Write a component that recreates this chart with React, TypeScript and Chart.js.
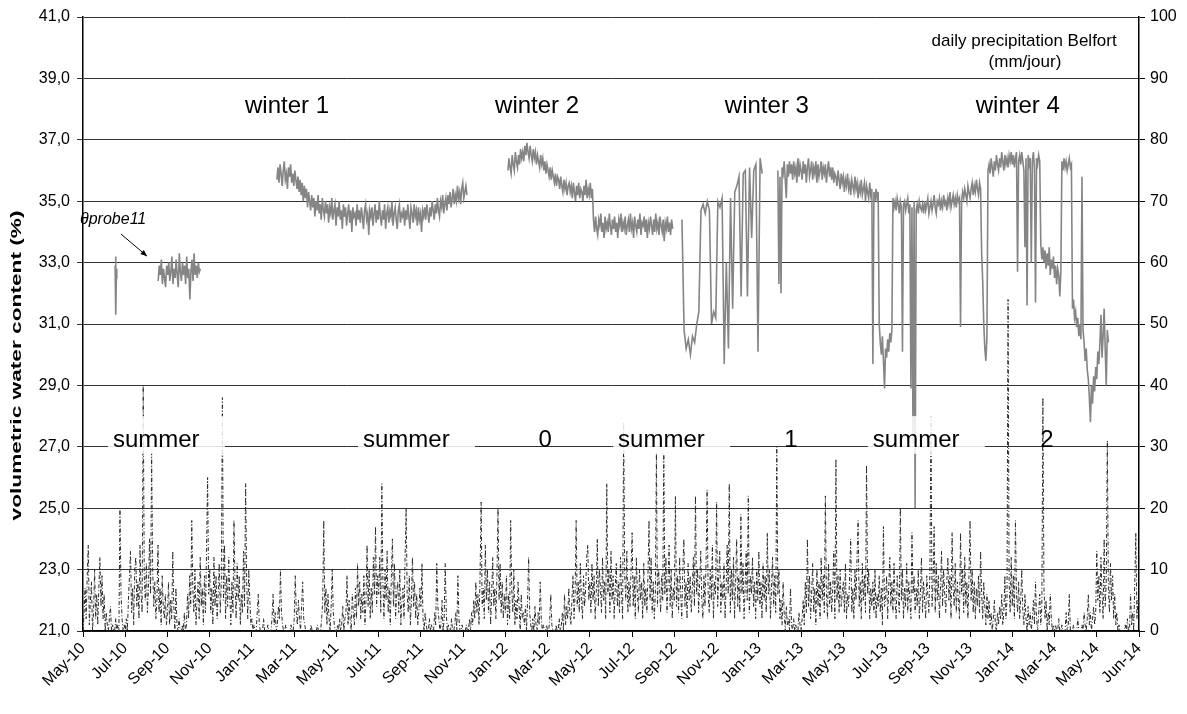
import React, { useEffect, useRef } from 'react';
import { Chart, registerables } from 'chart.js';

Chart.register(...registerables);

// ---------- DATA ----------
// x unit: one label interval (2 months), 0 = May-10 ... 25 = Jun-14
const tickLabels = [
  'May-10', 'Jul-10', 'Sep-10', 'Nov-10', 'Jan-11', 'Mar-11', 'May-11', 'Jul-11', 'Sep-11',
  'Nov-11', 'Jan-12', 'Mar-12', 'May-12', 'Jul-12', 'Sep-12', 'Nov-12', 'Jan-13', 'Mar-13',
  'May-13', 'Jul-13', 'Sep-13', 'Nov-13', 'Jan-14', 'Mar-14', 'May-14', 'Jun-14',
];

// daily precipitation Belfort (mm/jour), one value every 0.025 interval from May-10
const precipStart = 0;
const precipStep = 0.025;
const precipitation = [
  0, 3, 7, 2, 9, 14, 1, 5, 8, 0, 3, 10, 2, 6, 1, 7, 12, 4, 9, 2, 6, 0, 3, 1, 0, 2, 4, 0, 1, 0, 0, 2, 0, 1, 0, 20, 6, 2, 0, 1,
  0, 2, 0, 5, 9, 13, 3, 7, 1, 10, 12, 4, 8, 2, 14, 6, 3, 40, 9, 5, 11, 3, 7, 15, 6, 29, 10, 4, 8, 2, 5, 14, 3, 7, 1, 9, 4, 2, 6, 1,
  3, 8, 1, 5, 2, 13, 4, 0, 7, 1, 0, 2, 0, 0, 1, 0, 3, 0, 1, 6, 2, 9, 4, 18, 7, 3, 10, 1, 5, 8, 2, 12, 4, 7, 1, 9, 3, 13, 25, 6,
  10, 3, 7, 1, 12, 4, 9, 2, 6, 11, 3, 8, 38, 5, 14, 2, 9, 4, 12, 6, 1, 8, 3, 18, 7, 2, 11, 5, 9, 1, 6, 3, 13, 4, 24, 8, 2, 10, 5, 1,
  2, 0, 1, 0, 0, 3, 6, 1, 0, 0, 0, 2, 0, 0, 0, 1, 0, 0, 0, 2, 6, 1, 3, 0, 1, 4, 2, 10, 3, 1, 0, 0, 1, 0, 0, 0, 0, 1, 0, 0,
  2, 9, 3, 1, 5, 2, 0, 4, 8, 2, 1, 0, 0, 0, 0, 0, 1, 0, 0, 0, 0, 0, 1, 0, 0, 0, 2, 5, 18, 3, 7, 1, 6, 2, 0, 4, 10, 3, 1, 0,
  0, 1, 0, 2, 0, 1, 4, 0, 2, 3, 9, 1, 5, 2, 0, 6, 3, 1, 7, 2, 11, 4, 8, 2, 6, 3, 9, 1, 5, 14, 4, 10, 2, 7, 3, 12, 6, 17, 4, 9,
  6, 12, 3, 24, 8, 2, 10, 5, 13, 3, 7, 1, 9, 15, 4, 11, 2, 6, 8, 3, 10, 1, 5, 7, 2, 12, 20, 6, 3, 9, 1, 5, 12, 4, 8, 2, 6, 1, 3, 7,
  4, 11, 2, 0, 3, 1, 0, 0, 2, 0, 1, 0, 0, 3, 1, 11, 4, 2, 0, 1, 5, 0, 2, 11, 3, 0, 1, 0, 0, 2, 0, 0, 1, 3, 0, 9, 2, 0, 0, 1,
  0, 0, 0, 1, 0, 0, 2, 0, 3, 1, 5, 2, 8, 3, 6, 1, 9, 21, 4, 7, 2, 14, 5, 10, 3, 8, 1, 6, 12, 4, 7, 2, 9, 20, 5, 11, 3, 8, 2, 6,
  3, 9, 1, 6, 2, 18, 7, 3, 10, 1, 5, 2, 8, 4, 0, 6, 2, 3, 1, 4, 0, 5, 12, 3, 1, 0, 2, 0, 4, 1, 0, 3, 1, 8, 2, 0, 1, 0, 0, 1,
  0, 0, 2, 6, 1, 0, 0, 0, 1, 0, 0, 2, 0, 1, 3, 0, 6, 1, 4, 2, 7, 3, 1, 5, 9, 2, 6, 18, 4, 8, 3, 11, 5, 2, 9, 4, 7, 12, 14, 5,
  8, 3, 11, 5, 9, 2, 6, 15, 4, 10, 7, 3, 12, 5, 8, 2, 24, 6, 10, 3, 13, 5, 9, 2, 7, 11, 4, 8, 3, 12, 6, 2, 34, 9, 5, 13, 3, 8, 4, 10,
  16, 4, 9, 2, 12, 6, 3, 10, 5, 8, 2, 11, 4, 7, 3, 9, 18, 5, 12, 3, 8, 2, 6, 29, 4, 10, 7, 3, 9, 5, 29, 6, 12, 3, 8, 14, 4, 10, 2, 7,
  5, 22, 4, 9, 3, 12, 6, 2, 10, 15, 4, 8, 2, 11, 5, 9, 3, 7, 12, 4, 22, 6, 10, 3, 8, 13, 5, 2, 9, 4, 11, 23, 6, 3, 10, 5, 14, 2, 8, 6,
  21, 4, 9, 13, 3, 8, 5, 11, 2, 7, 14, 6, 24, 3, 10, 5, 12, 2, 8, 15, 4, 9, 3, 19, 6, 11, 2, 7, 13, 5, 22, 3, 9, 6, 12, 4, 8, 2, 10, 5,
  13, 4, 8, 2, 11, 5, 9, 3, 16, 6, 10, 2, 7, 12, 4, 9, 3, 30, 6, 10, 2, 5, 1, 8, 3, 0, 4, 1, 2, 0, 7, 1, 0, 2, 0, 1, 0, 0, 3, 1,
  0, 2, 5, 1, 8, 3, 15, 4, 9, 2, 6, 11, 3, 7, 1, 10, 4, 8, 2, 12, 5, 9, 3, 22, 6, 2, 11, 4, 8, 3, 7, 13, 2, 28, 5, 9, 3, 10, 4, 6,
  8, 3, 11, 2, 6, 4, 9, 15, 3, 7, 2, 10, 5, 12, 18, 4, 8, 2, 11, 5, 9, 3, 27, 6, 10, 2, 7, 4, 8, 3, 10, 2, 6, 4, 9, 3, 7, 1, 17, 4,
  5, 9, 2, 7, 12, 4, 8, 3, 11, 5, 2, 9, 6, 3, 20, 5, 10, 2, 7, 4, 11, 3, 8, 5, 2, 16, 6, 9, 3, 7, 4, 10, 2, 6, 12, 3, 8, 5, 2, 9,
  6, 3, 10, 35, 4, 8, 17, 3, 11, 5, 9, 2, 7, 13, 4, 10, 6, 3, 8, 12, 5, 9, 2, 16, 7, 4, 11, 3, 8, 5, 2, 16, 6, 10, 3, 12, 4, 8, 2, 9,
  18, 5, 10, 3, 8, 2, 7, 4, 9, 3, 13, 6, 2, 8, 4, 1, 6, 2, 5, 1, 3, 0, 2, 5, 1, 0, 3, 1, 4, 2, 6, 1, 3, 9, 2, 5, 54, 8, 3, 12,
  4, 9, 2, 18, 6, 3, 8, 2, 5, 10, 3, 1, 6, 2, 0, 4, 1, 3, 0, 2, 5, 1, 8, 2, 0, 3, 6, 1, 4, 38, 7, 2, 5, 0, 3, 1, 6, 2, 0, 1,
  0, 1, 0, 0, 2, 0, 0, 1, 0, 0, 0, 3, 0, 1, 6, 0, 0, 0, 1, 0, 0, 0, 2, 0, 0, 0, 1, 0, 3, 1, 0, 2, 6, 1, 3, 0, 2, 4, 1, 3,
  13, 5, 9, 3, 12, 6, 2, 15, 4, 8, 31, 7, 3, 11, 5, 9, 2, 6, 1, 3, 0, 1, 0, 0, 0, 0, 0, 1, 0, 2, 0, 0, 6, 1, 3, 0, 8, 16, 2, 5,
  4,
];

// volumetric water content θprobe11 (%) — recorded pieces (start, step, values)
const thetaAStart = 0.76;
const thetaAStep = 0.01;
const thetaA = [32.9, 33.2, 31.3, 32.5, 32.8];

const thetaBStart = 1.78;
const thetaBStep = 0.025;
const thetaB = [
  32.4, 32.9, 32.6, 33.1, 32.3, 32.8, 32.5, 32.2, 32.9, 32.6,
  33.0, 32.4, 32.7, 33.2, 32.3, 32.8, 32.5, 33.1, 32.6, 32.2,
  33.3, 32.7, 32.4, 33.0, 32.6, 32.9, 32.3, 33.2, 32.5, 32.8,
  31.8, 32.7, 33.1, 32.4, 33.3, 32.6, 32.9, 32.5, 33.0, 32.7, 32.8,
];

const thetaCStart = 4.59;
const thetaCStep = 0.025;
const thetaC = [
  35.7, 36.1, 35.6, 36.2, 35.9, 35.5, 36.0, 36.3, 35.7, 35.9, 35.4, 36.1, 35.8, 36.2, 35.6, 35.9, 35.5, 36.0, 35.7, 35.4,
  35.8, 35.3, 35.7, 35.2, 35.6, 35.0, 35.5, 35.1, 35.4, 34.8, 35.3, 35.0, 34.7, 35.2, 34.8, 35.1, 34.5, 35.0, 34.7, 35.2,
  34.6, 34.9, 34.4, 35.1, 34.7, 34.5, 35.0, 34.6, 34.9, 34.3, 34.8, 34.6, 35.1, 34.4, 34.7, 34.9, 34.2, 34.8, 34.5, 35.0,
  34.4, 34.7, 34.1, 34.9, 34.5, 34.8, 34.2, 34.6, 34.9, 34.3, 34.7, 34.0, 34.8, 34.5, 34.6, 34.2, 34.9, 34.4, 34.7, 34.3,
  34.8, 34.5, 34.1, 34.7, 34.9, 34.4, 34.6, 33.9, 34.7, 34.5, 34.8, 34.2, 34.6, 34.9, 34.3, 34.7, 34.4, 35.0, 34.5, 34.2,
  34.7, 34.4, 34.9, 34.1, 34.6, 34.8, 34.3, 34.7, 34.5, 35.0, 34.2, 34.6, 34.8, 34.4, 34.1, 34.7, 34.9, 34.3, 34.6, 34.5,
  34.8, 34.2, 34.7, 34.4, 34.9, 34.5, 34.1, 34.8, 34.6, 34.3, 34.9, 34.5, 34.7, 34.2, 34.8, 34.4, 34.6, 34.0, 34.7, 34.5,
  34.8, 34.4, 34.9, 34.6, 34.3, 34.8, 34.5, 35.0, 34.7, 34.4, 34.9, 34.6, 35.1, 34.7, 34.5, 35.0, 34.8, 35.2, 34.6, 34.9,
  35.1, 34.7, 35.2, 34.9, 35.3, 34.8, 35.1, 35.4, 34.9, 35.2, 35.0, 35.5, 35.1, 35.3, 34.9, 35.4, 35.6, 35.1, 35.3, 35.5, 35.2,
];

const thetaDStart = 10.06;
const thetaDStep = 0.025;
const thetaD = [
  36.0, 36.4, 36.1, 35.9, 36.5, 36.2, 36.0, 36.6, 36.3, 36.1, 36.5, 36.2, 36.7, 36.4, 36.6, 36.3, 36.8, 36.5, 36.9, 36.6,
  36.4, 36.8, 36.5, 36.3, 36.7, 36.4, 36.6, 36.2, 36.5, 36.3, 36.1, 36.5, 36.2, 36.4, 36.0, 36.3, 35.9, 36.2, 36.0, 35.8,
  36.1, 35.7, 36.0, 35.8, 35.6, 35.9, 35.5, 35.8, 35.7, 35.4, 35.8, 35.5, 35.3, 35.7, 35.4, 35.6, 35.2, 35.5, 35.6, 35.3,
  35.5, 35.1, 35.6, 35.3, 35.0, 35.5, 35.2, 35.6, 35.1, 35.4, 35.3, 35.0, 35.5, 35.2, 35.7, 35.1, 35.4, 35.2, 35.6, 35.1, 35.4,
  34.4, 34.0, 34.5, 34.1, 33.9, 34.4, 34.2, 34.6, 34.0, 34.3,
  33.8, 34.5, 34.1, 34.3, 34.0, 34.6, 34.2, 33.9, 34.4, 34.1,
  34.5, 34.0, 34.3, 33.8, 34.4, 34.2, 34.6, 34.0, 34.3, 34.1,
  34.5, 33.9, 34.2, 34.4, 34.0, 34.6, 34.1, 34.3, 33.8, 34.5,
  34.2, 34.0, 34.4, 34.1, 34.6, 33.9, 34.3, 34.2, 34.5, 34.0,
  34.4, 33.8, 34.3, 34.1, 34.5, 34.2, 33.9, 34.4, 34.0, 34.6,
  34.1, 34.3, 33.9, 34.5, 34.2, 34.0, 34.4, 33.7, 34.3, 34.1,
  34.5, 34.0, 34.3, 33.9, 34.4, 34.1,
];

const thetaEStart = 14.18;
const thetaEStep = 0.05;
const thetaE = [
  34.4, 30.8, 30.2, 30.5, 30.0, 30.6, 30.4, 31.0, 31.4, 34.7,
  34.9, 34.6, 35.0, 34.7, 31.0, 31.4, 31.2, 35.0, 34.8, 35.1,
  29.7, 33.0, 30.2, 35.1, 31.5, 35.3, 35.5, 35.8, 31.9, 35.9,
  36.0, 31.9, 36.1, 33.8, 36.0, 36.2, 30.1, 36.4, 35.9,
];

const thetaFStart = 16.45;
const thetaFStep = 0.025;
const thetaF = [
  36.0, 32.3, 35.8, 32.0, 36.1, 35.9, 36.3, 35.7, 35.1, 36.2, 35.8, 36.3, 35.9,
  36.2, 35.7, 36.3, 35.9, 36.1, 35.6, 36.4, 35.8, 36.2, 36.0,
  35.7, 36.3, 35.9, 36.2, 35.6, 36.1, 36.4, 35.8, 36.0, 36.3,
  35.7, 36.1, 35.9, 36.3, 35.6, 36.2, 35.8, 36.0, 36.3, 35.7,
  36.1, 35.9, 36.2, 35.6, 36.0, 36.3, 35.8, 36.1,
  35.7, 36.1, 35.6, 35.9, 35.8, 35.5, 36.0, 35.7, 35.4, 35.9,
  35.6, 35.8, 35.3, 35.7, 35.5, 35.9, 35.4, 35.6, 35.2, 35.7,
  35.5, 35.3, 35.8, 35.4, 35.6, 35.1, 35.5, 35.3, 35.7, 35.2,
  35.4, 35.6, 35.0, 35.5, 35.3, 35.1, 35.6, 35.2, 35.4,
  29.7, 35.3, 35.0, 35.4, 35.1, 35.3, 31.0, 30.4, 30.0, 30.6,
  29.8, 28.9, 30.2, 29.9, 30.5, 30.1, 30.7, 30.4, 30.8, 35.1,
  34.8, 35.0, 34.7, 35.1, 34.9, 34.6, 35.0, 34.8, 30.1, 34.9,
  35.0, 34.7, 34.9, 35.1, 34.6, 34.9, 28.9, 34.8, 27.1, 35.0,
  25.0, 34.7, 34.9, 34.6, 35.0, 34.8, 34.7,
  34.9, 34.6, 35.0, 34.7, 34.9, 35.1, 34.6, 34.8, 35.0, 34.7,
  34.9, 35.2, 34.8, 34.6, 35.0, 34.9, 35.1, 34.7, 35.0, 34.8,
  35.2, 34.9, 35.0, 34.7, 35.1, 34.9, 35.3, 34.8, 35.0, 35.2,
  34.9, 35.1, 34.8, 35.2, 35.0, 35.1,
  30.9, 35.0, 35.3, 35.1, 35.4, 35.2, 35.0, 35.5, 35.3, 35.1,
  35.4, 35.6, 35.2, 35.5, 35.3, 35.7, 35.4, 35.2, 35.6, 35.4,
  33.3, 32.4, 31.0, 30.2, 29.8, 30.6,
  36.0,
  36.2, 35.9, 36.4, 36.1, 35.8, 36.3, 36.0, 36.5, 36.2, 36.0,
  36.4, 36.1, 36.6, 36.3, 36.0, 36.5, 36.2, 36.4, 36.1, 36.5,
  36.3, 36.6, 36.2, 36.5, 36.1, 36.4, 36.6, 32.7, 36.3, 36.5,
  36.2, 36.6, 36.3, 36.0, 33.5, 36.4, 31.6, 36.5, 36.2, 36.4,
  33.0, 36.3, 36.6, 36.1, 31.7, 36.4, 36.2, 36.5, 36.3,
  33.6, 33.1, 33.5, 33.0, 33.4, 32.8, 33.3, 32.9, 33.5, 32.6,
  33.1, 32.8, 33.2, 32.5, 32.9, 32.3, 32.8, 32.6, 31.9, 32.7,
  36.3, 36.0, 36.4, 36.1, 36.3, 36.0, 36.2, 36.4, 36.1, 36.2,
  31.5, 31.8, 31.2, 31.4, 30.9, 31.2, 30.6, 31.0, 30.5, 35.8,
  30.8, 30.4, 29.8, 30.2, 29.5, 29.2, 28.6, 27.8, 29.0, 28.4,
  29.3, 28.8, 29.6, 29.2, 30.1, 29.7, 30.4, 31.3, 29.9, 30.6,
  31.5, 30.2, 29.0, 30.8, 30.4,
];

// ---------- ANNOTATIONS (text + data-space anchors) ----------
const yAxisTitle = 'volumetric water content (%)';
const winterTexts = ['winter 1', 'winter 2', 'winter 3', 'winter 4'];
const winterAnchorX = [4.83, 10.75, 16.19, 22.13];
const winterAnchorY = 37.87;
const summerBoxStartX = [0.59, 6.51, 12.55, 18.58];
const summerBoxWidthX = 2.77;
const summerBoxTopY = 28.0;
const summerBoxBottomY = 26.77;
const yearTexts = ['0', '1', '2'];
const yearAnchorX = [10.94, 16.76, 22.82];
const seasonBaselineY = 27.0;

const FONT = '"Liberation Sans", Arial, Helvetica, sans-serif';

function buildSegment(start: number, step: number, values: number[]) {
  return values.map((v, i) => ({ x: start + i * step, y: v }));
}

function gap(xv: number) {
  return { x: xv, y: null as any };
}

const annotationPlugin = {
  id: 'customAnnotations',
  afterDatasetsDraw(chart: any) {
    const { ctx } = chart;
    const xs = chart.scales.x;
    const ys = chart.scales.y;
    ctx.save();
    const yTop = ys.getPixelForValue(summerBoxTopY);
    const yBot = ys.getPixelForValue(summerBoxBottomY);
    const base = ys.getPixelForValue(seasonBaselineY);
    summerBoxStartX.forEach((u) => {
      const x0 = xs.getPixelForValue(u);
      const x1 = xs.getPixelForValue(u + summerBoxWidthX);
      ctx.fillStyle = 'rgba(255,255,255,0.85)';
      ctx.fillRect(x0, yTop, x1 - x0, yBot - yTop);
      ctx.fillStyle = '#000';
      ctx.font = `24px ${FONT}`;
      ctx.textAlign = 'left';
      ctx.textBaseline = 'alphabetic';
      ctx.fillText('summer', x0 + 5, base);
    });
    ctx.fillStyle = '#000';
    ctx.font = `24px ${FONT}`;
    ctx.textAlign = 'center';
    yearTexts.forEach((t, i) => {
      ctx.fillText(t, xs.getPixelForValue(yearAnchorX[i]), base);
    });
    winterTexts.forEach((t, i) => {
      ctx.fillText(t, xs.getPixelForValue(winterAnchorX[i]), ys.getPixelForValue(winterAnchorY));
    });
    ctx.font = `italic 16px ${FONT}`;
    ctx.textAlign = 'left';
    ctx.fillText('\u03B8probe11', xs.getPixelForValue(-0.07), ys.getPixelForValue(34.26));
    const ax0 = xs.getPixelForValue(0.9), ay0 = ys.getPixelForValue(33.93);
    const ax1 = xs.getPixelForValue(1.515), ay1 = ys.getPixelForValue(33.21);
    ctx.strokeStyle = '#000';
    ctx.lineWidth = 1;
    ctx.beginPath();
    ctx.moveTo(ax0, ay0);
    ctx.lineTo(ax1, ay1);
    ctx.stroke();
    const ang = Math.atan2(ay1 - ay0, ax1 - ax0);
    ctx.beginPath();
    ctx.moveTo(ax1, ay1);
    ctx.lineTo(ax1 - 7 * Math.cos(ang - 0.4), ay1 - 7 * Math.sin(ang - 0.4));
    ctx.lineTo(ax1 - 7 * Math.cos(ang + 0.4), ay1 - 7 * Math.sin(ang + 0.4));
    ctx.closePath();
    ctx.fill();
    ctx.font = `17px ${FONT}`;
    ctx.textAlign = 'center';
    ctx.fillText('daily precipitation Belfort', xs.getPixelForValue(22.28), ys.getPixelForValue(40.06));
    ctx.fillText('(mm/jour)', xs.getPixelForValue(22.3), ys.getPixelForValue(39.37));
    // y axis title (left), stretched along its baseline like the reference
    ctx.save();
    ctx.translate(17, ys.getPixelForValue(29.65));
    ctx.rotate(-Math.PI / 2);
    ctx.font = `bold 15px ${FONT}`;
    const w = ctx.measureText(yAxisTitle).width;
    ctx.scale(310 / w, 1);
    ctx.textAlign = 'center';
    ctx.textBaseline = 'middle';
    ctx.fillText(yAxisTitle, 0, 0);
    ctx.restore();
    ctx.restore();
  },
};

export default function App() {
  const canvasRef = useRef<HTMLCanvasElement | null>(null);

  useEffect(() => {
    if (!canvasRef.current) return;
    const precipData = precipitation.map((v, i) => ({ x: precipStart + i * precipStep, y: v }));
    const thetaData: any[] = [
      ...buildSegment(thetaAStart, thetaAStep, thetaA),
      gap(1.2),
      ...buildSegment(thetaBStart, thetaBStep, thetaB),
      gap(3.5),
      ...buildSegment(thetaCStart, thetaCStep, thetaC),
      gap(9.5),
      ...buildSegment(thetaDStart, thetaDStep, thetaD),
      gap(14.1),
      ...buildSegment(thetaEStart, thetaEStep, thetaE),
      gap(16.3),
      ...buildSegment(thetaFStart, thetaFStep, thetaF),
    ];

    const chart = new Chart(canvasRef.current, {
      type: 'line',
      data: {
        datasets: [
          {
            label: '\u03B8probe11',
            data: thetaData,
            yAxisID: 'y',
            borderColor: '#858585',
            borderWidth: 1.6,
            pointRadius: 0,
            spanGaps: false,
            tension: 0,
            order: 0,
          },
          {
            label: 'daily precipitation Belfort (mm/jour)',
            data: precipData,
            yAxisID: 'y1',
            borderColor: '#2a2a2a',
            borderWidth: 1,
            borderDash: [4, 2, 1, 2],
            pointRadius: 0,
            tension: 0,
            order: 1,
          },
        ],
      },
      options: {
        animation: false,
        responsive: false,
        maintainAspectRatio: false,
        layout: { padding: { top: 17, left: 0, right: 0, bottom: 0 } },
        plugins: { legend: { display: false }, tooltip: { enabled: false } },
        scales: {
          x: {
            type: 'linear',
            min: 0,
            max: 25,
            afterBuildTicks: (scale: any) => {
              scale.ticks = tickLabels.map((_, i) => ({ value: i }));
            },
            afterFit: (scale: any) => {
              scale.height = 83;
            },
            ticks: {
              autoSkip: false,
              maxRotation: 45,
              minRotation: 45,
              padding: 2,
              color: '#000',
              font: { family: FONT, size: 16 },
              callback: (v: any) => tickLabels[Math.round(Number(v))] ?? '',
            },
            grid: { drawOnChartArea: false, drawTicks: true, tickLength: 6, color: '#000' },
            border: { display: true, color: '#000', width: 1.5 },
          },
          y: {
            position: 'left',
            min: 21,
            max: 41,
            afterFit: (scale: any) => {
              scale.width = 83;
            },
            ticks: {
              stepSize: 2,
              padding: 7,
              color: '#000',
              font: { family: FONT, size: 16 },
              callback: (v: any) => Number(v).toFixed(1).replace('.', ','),
            },
            grid: { color: '#333', lineWidth: 1, drawTicks: true, tickLength: 6 },
            border: { display: true, color: '#000', width: 1.5 },
          },
          y1: {
            position: 'right',
            min: 0,
            max: 100,
            afterFit: (scale: any) => {
              scale.width = 48;
            },
            ticks: {
              stepSize: 10,
              padding: 5,
              color: '#000',
              font: { family: FONT, size: 16 },
            },
            grid: { drawOnChartArea: false, drawTicks: true, tickLength: 6, color: '#000' },
            border: { display: true, color: '#000', width: 1.5 },
          },
        },
      } as any,
      plugins: [annotationPlugin],
    });
    return () => chart.destroy();
  }, []);

  return (
    <div style={{ position: 'absolute', left: 0, top: 0, width: 1187, height: 714, background: '#fff' }}>
      <canvas ref={canvasRef} width={1187} height={714} style={{ width: 1187, height: 714 }} />
    </div>
  );
}
